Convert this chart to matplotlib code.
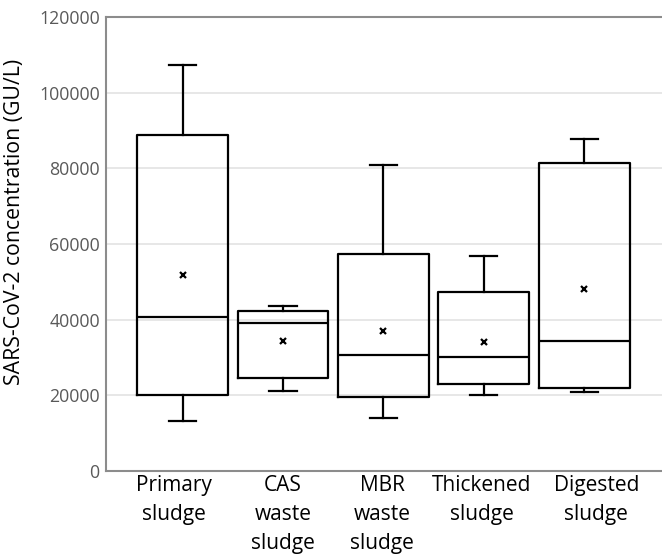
import matplotlib
matplotlib.use("Agg")
import matplotlib.pyplot as plt

categories = ["Primary\nsludge", "CAS\nwaste\nsludge", "MBR\nwaste\nsludge",
              "Thickened\nsludge", "Digested\nsludge"]
whisker_low = [13200, 21250, 13900, 20200, 20900]
q1 = [20200, 24600, 19600, 23100, 21900]
median = [40800, 39000, 30700, 30100, 34300]
q3 = [88800, 42400, 57400, 47200, 81500]
whisker_high = [107300, 43700, 80800, 56900, 87800]
mean = [51700, 34400, 36900, 34200, 48100]
yticks = [0, 20000, 40000, 60000, 80000, 100000, 120000]

# horizontal nudges of category labels (in pixels) as in the reference
label_nudge_px = [-9, 0, -1, -2, 12]

plt.rcParams['font.family'] = ['Open Sans', 'DejaVu Sans']

fig = plt.figure(figsize=(6.62, 5.54), dpi=100)
ax = fig.add_axes([106/662, 1-471/554, 556/662, 454/554])

stats = []
for i in range(len(categories)):
    stats.append(dict(whislo=whisker_low[i], q1=q1[i], med=median[i], q3=q3[i],
                      whishi=whisker_high[i], mean=mean[i], fliers=[]))

positions = list(range(len(categories)))
lw = 1.6
ax.bxp(stats, positions=positions, widths=0.905, showmeans=True, showfliers=False,
       patch_artist=False, capwidths=0.27,
       boxprops=dict(color='black', linewidth=lw),
       whiskerprops=dict(color='black', linewidth=lw),
       capprops=dict(color='black', linewidth=lw),
       medianprops=dict(color='black', linewidth=lw),
       meanprops=dict(marker='x', markeredgecolor='black', markerfacecolor='black',
                      markersize=5, markeredgewidth=1.6))

ax.set_xlim(-0.763, 4.775)
ax.set_ylim(0, 120000)
ax.set_yticks(yticks)
ax.set_yticklabels([str(v) for v in yticks])
ax.set_xticks(positions)
ax.set_xticklabels([])
for pos, lab, dx in zip(positions, categories, label_nudge_px):
    ax.annotate(lab, xy=(pos, 0), xycoords=('data', 'axes fraction'),
                xytext=(dx * 0.72, -3), textcoords='offset points',
                ha='center', va='top', fontsize=15, color='black',
                linespacing=1.5, annotation_clip=False)
ax.tick_params(axis='y', length=0, pad=4.5, labelsize=12.8, labelcolor='#595959')
ax.tick_params(axis='x', length=0)

ax.yaxis.grid(True, color='#e3e3e3', linewidth=1.2)
ax.set_axisbelow(True)

for s in ['left', 'top', 'bottom']:
    ax.spines[s].set_color('#8c8c8c')
    ax.spines[s].set_linewidth(1.5)
ax.spines['right'].set_visible(False)

ax.set_ylabel("SARS-CoV-2 concentration (GU/L)", fontsize=15.3, color='black')
ax.yaxis.set_label_coords(-0.1457, 0.548)

fig.savefig("out.png", dpi=100)
